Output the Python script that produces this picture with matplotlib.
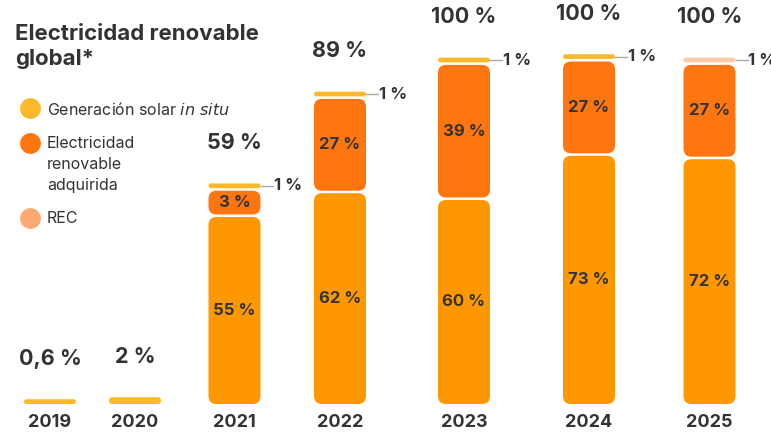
import matplotlib
matplotlib.use('Agg')
import matplotlib.pyplot as plt
from matplotlib.patches import FancyBboxPatch

plt.rcParams['font.family'] = ['Inter', 'DejaVu Sans']

## donnees

years     = ['2019', '2020', '2021', '2022', '2023', '2024', '2025']
totals    = [0.6, 2, 59, 89, 100, 100, 100]
base      = [0, 0, 55, 62, 60, 73, 72]     # segment du bas (orange)
purchased = [0, 0, 3, 27, 39, 27, 27]      # electricidad renovable adquirida
onsite    = [0.6, 2, 1, 1, 1, 1, 0]        # generacion solar in situ
rec       = [0, 0, 0, 0, 0, 0, 1]          # REC

title_lines = ['Electricidad renovable', 'global*']
legend_labels = ['Generación solar $\\it{in\\ situ}$',
                 'Electricidad\nrenovable\nadquirida',
                 'REC']

## mise en page

W, H = 771, 436
xpos = [50, 135, 234.5, 340, 464, 589, 709.5]   # centre des barres en pixel
BAR_W = 52
BASE_PX = 404       # ligne de base en pixel depuis le haut
S = 3.4             # pixels par %
GAP = 2.5 / S
RADIUS = 8
TXT = '#333333'

C_BASE = '#FF9800'
C_BUY = '#FF7510'
C_SUN = '#FDB92B'
C_REC = '#FCCBA8'
C_REC_LEG = '#FDAA72'

fig = plt.figure(figsize=(W / 100, H / 100), dpi=100)
ax = fig.add_axes([0, 0, 1, 1])
ax.set_xlim(0, W)
ax.set_ylim(-(H - BASE_PX) / S, BASE_PX / S)
ax.axis('off')

# axe en pixels pour titre et legende
axp = fig.add_axes([0, 0, 1, 1], zorder=3)
axp.set_xlim(0, W)
axp.set_ylim(H, 0)
axp.axis('off')
axp.patch.set_alpha(0)


def fmt(v):
    return ('%g' % v).replace('.', ',') + ' %'


def segment(x, y0, h, color):
    h_px = h * S
    r = min(RADIUS, h_px / 2)
    ax.add_patch(FancyBboxPatch((x - BAR_W / 2, y0), BAR_W, h,
                                boxstyle='round,pad=0,rounding_size=%f' % r,
                                mutation_aspect=1 / S, fc=color, ec='none'))


for i, yr in enumerate(years):
    x = xpos[i]
    y = 0
    segs = [(base[i], C_BASE), (purchased[i], C_BUY), (onsite[i], C_SUN), (rec[i], C_REC)]
    for k, (v, col) in enumerate([s for s in segs if s[0] > 0]):
        if v <= 2:
            h = max(v, 1.4)
        else:
            h = max(v, 7)
        if k > 0:
            y += GAP
        segment(x, y, h, col)
        if v >= 3:
            ax.text(x, y + h / 2, fmt(v), ha='center', va='center',
                    fontsize=12, fontweight='bold', color=TXT)
        elif k > 0:
            ym = y + h / 2
            ax.plot([x + BAR_W / 2, x + BAR_W / 2 + 12], [ym, ym], color='#aaaaaa', lw=1)
            ax.text(x + BAR_W / 2 + 13, ym, fmt(v), ha='left', va='center',
                    fontsize=12, fontweight='bold', color=TXT)
        y += h
    ax.annotate(fmt(totals[i]), (x, y), xytext=(0, 29), textcoords='offset points',
                ha='center', va='center', fontsize=15.5, fontweight='bold', color=TXT)
    ax.annotate(yr, (x, 0), xytext=(0, -13.5), textcoords='offset points',
                ha='center', va='center', fontsize=13, fontweight='bold', color=TXT)

## titre et legende

for ty, tl in zip([40, 65], title_lines):
    axp.text(15, ty, tl, ha='left', va='baseline',
             fontsize=16, fontweight='bold', color=TXT)

leg_y = [108, 143, 218]
leg_col = [C_SUN, C_BUY, C_REC_LEG]
for ly, lc, lt in zip(leg_y, leg_col, legend_labels):
    axp.plot([30], [ly], marker='o', ms=15, color=lc, mec='none')
    axp.text(47, ly - 7, lt, ha='left', va='top', fontsize=11.5, color=TXT,
             linespacing=1.5)

fig.savefig('out.png', dpi=100)
